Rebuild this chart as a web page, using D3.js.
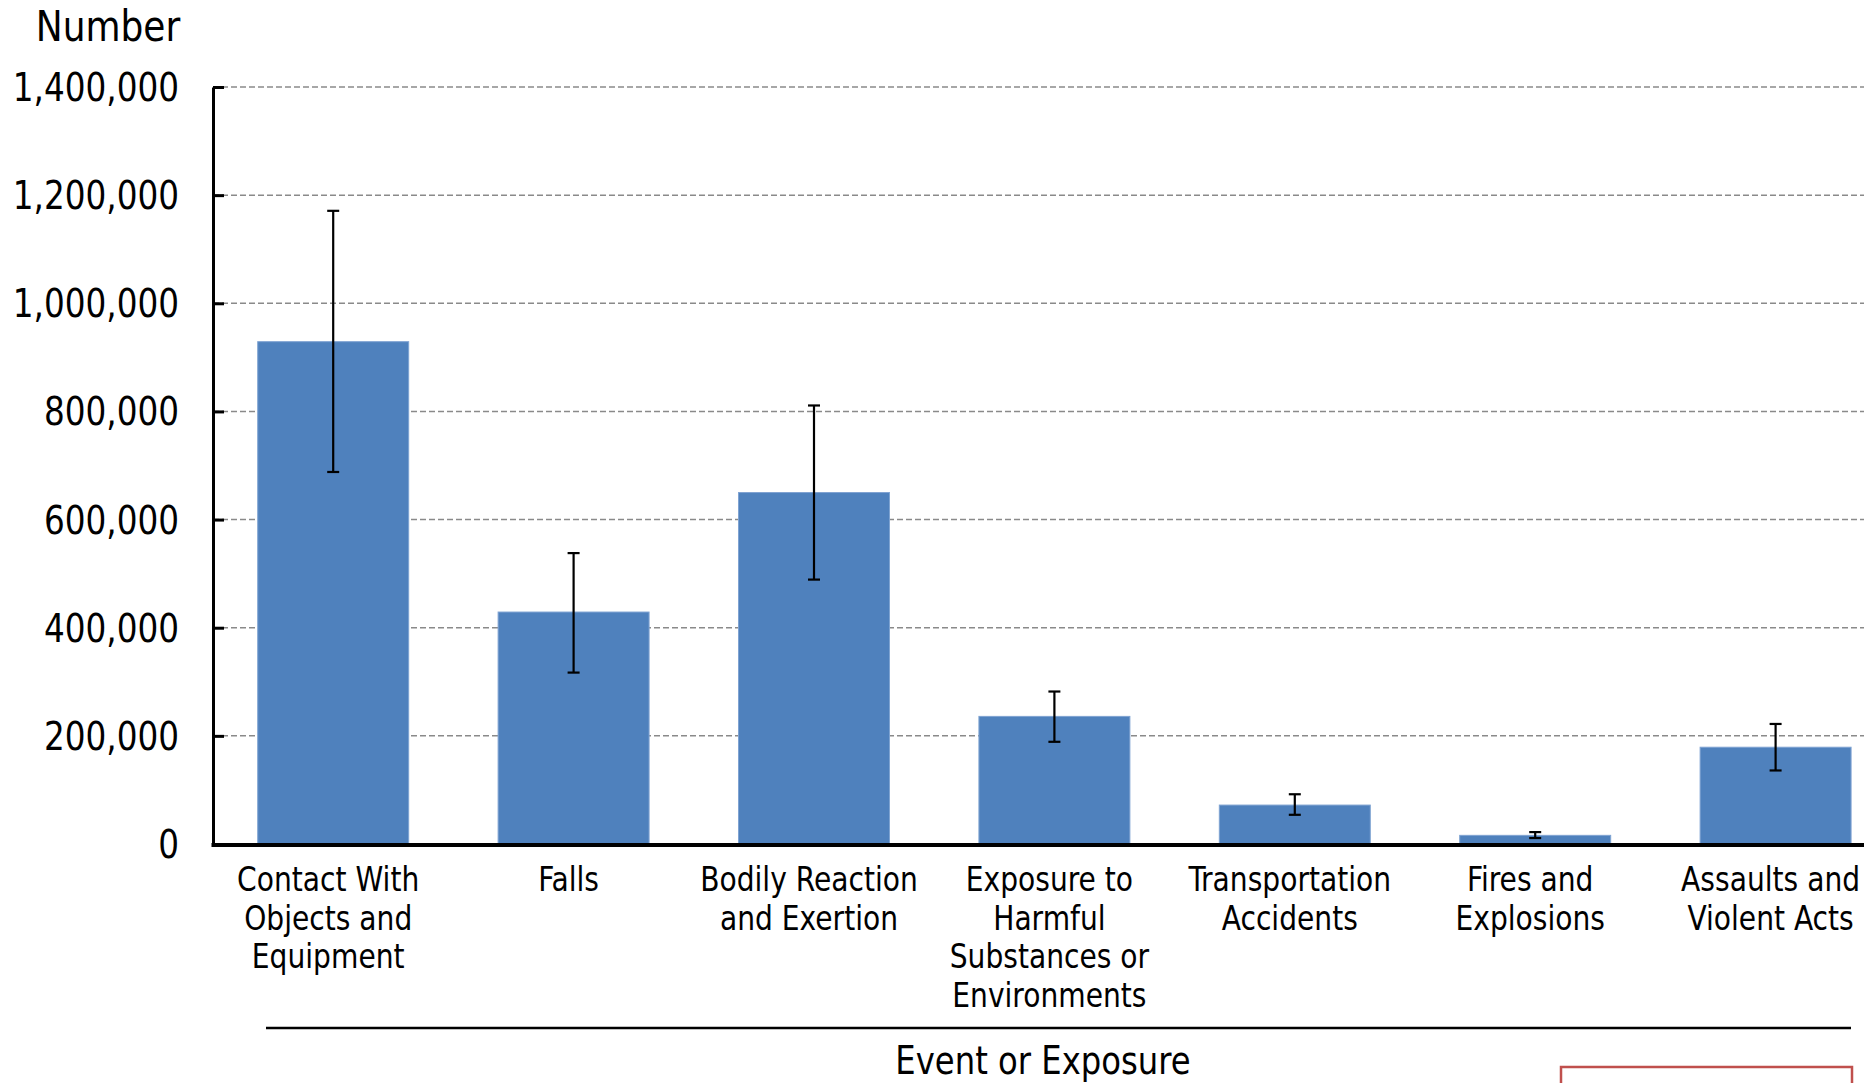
<!DOCTYPE html>
<html>
<head>
<meta charset="utf-8">
<script src="https://cdn.jsdelivr.net/npm/d3@7"></script>
<style>
  html, body { margin: 0; padding: 0; background: #fff; overflow: hidden; }
  svg { display: block; }
  text { font-family: "DejaVu Sans Condensed", "DejaVu Sans", sans-serif; fill: #000; }
</style>
</head>
<body>
<svg id="chart" width="1864" height="1083"></svg>
<script>
// ---- data ----
const categories = [
  "Contact With Objects and Equipment",
  "Falls",
  "Bodily Reaction and Exertion",
  "Exposure to Harmful Substances or Environments",
  "Transportation Accidents",
  "Fires and Explosions",
  "Assaults and Violent Acts"
];
const categoryLines = [
  ["Contact With", "Objects and", "Equipment"],
  ["Falls"],
  ["Bodily Reaction", "and Exertion"],
  ["Exposure to", "Harmful", "Substances or", "Environments"],
  ["Transportation", "Accidents"],
  ["Fires and", "Explosions"],
  ["Assaults and", "Violent Acts"]
];
const values = [929000, 429000, 650000, 236000, 72000, 16000, 179000];
const upperBounds = [1171000, 538000, 811000, 282000, 92000, 22000, 222000];
const lowerBounds = [688000, 317000, 489000, 189000, 54000, 11000, 136000];
const yTickValues = [0, 200000, 400000, 600000, 800000, 1000000, 1200000, 1400000];
const yAxisTitle = "Number";
const xAxisTitle = "Event or Exposure";

// ---- layout ----
const svg = d3.select("#chart");
const W = 1864, H = 1083;
const x0 = 213, y0 = 844, yTop = 87;
const step = 240.4;
const SX = 0.92; // horizontal text squeeze

const x = d3.scaleBand()
  .domain(categories)
  .range([x0, x0 + step * categories.length])
  .paddingInner(0.372)
  .paddingOuter(0.186);

const y = d3.scaleLinear().domain([0, 1400000]).range([y0, yTop]);

// gridlines
svg.append("g")
  .selectAll("line")
  .data(yTickValues.filter(d => d > 0))
  .join("line")
  .attr("x1", x0).attr("x2", W)
  .attr("y1", d => y(d)).attr("y2", d => y(d))
  .attr("stroke", "#8a8a8a")
  .attr("stroke-width", 1.5)
  .attr("stroke-dasharray", "6,3");

// bars
svg.append("g")
  .selectAll("rect")
  .data(values)
  .join("rect")
  .attr("x", (d, i) => x(categories[i]))
  .attr("width", x.bandwidth())
  .attr("y", d => y(d))
  .attr("height", d => y0 - y(d))
  .attr("fill", "#4F81BD")
  .attr("stroke", "#7FA3D2")
  .attr("stroke-width", 1);

// error bars
const eb = svg.append("g").attr("stroke", "#000").attr("stroke-width", 2.2);
values.forEach((v, i) => {
  const cx = x(categories[i]) + x.bandwidth() / 2;
  eb.append("line").attr("x1", cx).attr("x2", cx)
    .attr("y1", y(upperBounds[i])).attr("y2", y(lowerBounds[i]));
  eb.append("line").attr("x1", cx - 6).attr("x2", cx + 6)
    .attr("y1", y(upperBounds[i])).attr("y2", y(upperBounds[i]));
  eb.append("line").attr("x1", cx - 6).attr("x2", cx + 6)
    .attr("y1", y(lowerBounds[i])).attr("y2", y(lowerBounds[i]));
});

// y axis
const yAxis = d3.axisLeft(y)
  .tickValues(yTickValues)
  .tickFormat(d3.format(","))
  .tickSizeInner(-11)
  .tickSizeOuter(0)
  .tickPadding(35);

const gy = svg.append("g").attr("transform", `translate(${x0},0)`).call(yAxis);
gy.select(".domain").attr("stroke", "#000").attr("stroke-width", 3);
gy.selectAll(".tick line").attr("stroke", "#000").attr("stroke-width", 3);
gy.selectAll(".tick text")
  .attr("x", null)
  .attr("dy", null)
  .attr("dominant-baseline", "central")
  .attr("transform", `translate(-34,0) scale(${SX},1)`)
  .style("font-family", '"DejaVu Sans Condensed", "DejaVu Sans", sans-serif')
  .style("font-size", "39.5px")
  .attr("fill", "#000");

// x baseline
svg.append("line")
  .attr("x1", x0 - 1.5).attr("x2", W)
  .attr("y1", y0 + 1).attr("y2", y0 + 1)
  .attr("stroke", "#000").attr("stroke-width", 4);

// category labels
const lab = svg.append("g");
categoryLines.forEach((lines, i) => {
  const cx = x(categories[i]) + x.bandwidth() / 2 - 5;
  lines.forEach((t, j) => {
    lab.append("text")
      .attr("transform", `translate(${cx},${891 + j * 38.5}) scale(${SX},1)`)
      .attr("text-anchor", "middle")
      .style("font-size", "34px")
      .text(t);
  });
});

// y axis title
svg.append("text")
  .attr("transform", `translate(108,41) scale(${SX},1)`)
  .attr("text-anchor", "middle")
  .style("font-size", "43.5px")
  .text(yAxisTitle);

// separator line above x-axis title
svg.append("line")
  .attr("x1", 266).attr("x2", 1851)
  .attr("y1", 1028).attr("y2", 1028)
  .attr("stroke", "#000").attr("stroke-width", 2.5);

// x axis title
svg.append("text")
  .attr("transform", `translate(1043,1074) scale(${SX},1)`)
  .attr("text-anchor", "middle")
  .style("font-size", "39px")
  .text(xAxisTitle);

// red box (partially visible at bottom right)
svg.append("rect")
  .attr("x", 1561).attr("y", 1067)
  .attr("width", 291).attr("height", 40)
  .attr("fill", "none")
  .attr("stroke", "#C0504D")
  .attr("stroke-width", 2.5);
</script>
</body>
</html>
